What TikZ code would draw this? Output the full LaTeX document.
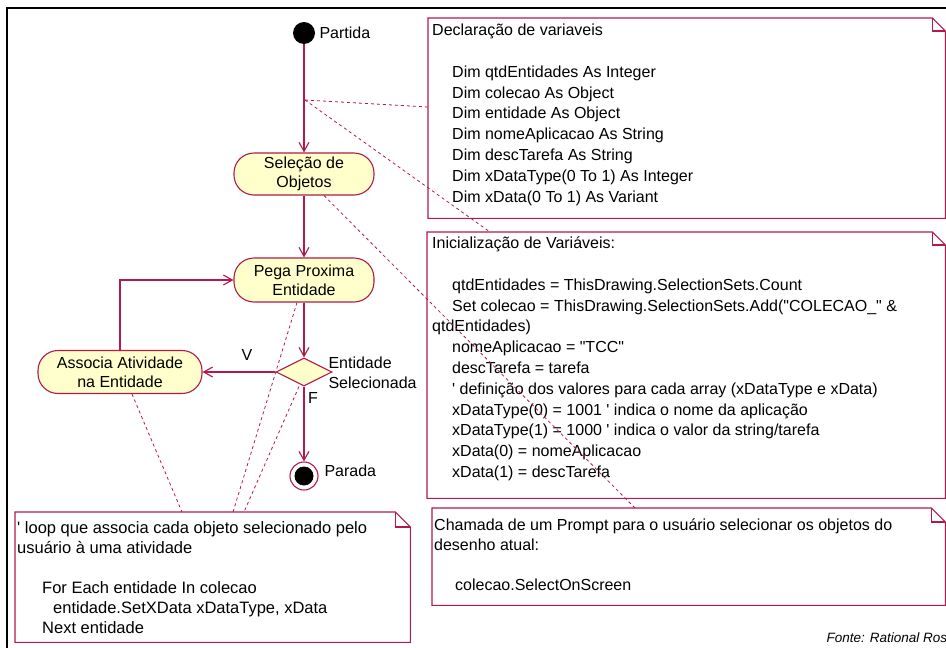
\documentclass[tikz,border=0pt]{standalone}
\usepackage{fontspec}
\setmainfont{Liberation Sans}[Ligatures=TeXOff]
\usetikzlibrary{arrows.meta,shapes.geometric}
\definecolor{umlred}{RGB}{180,25,75}
\definecolor{umlfill}{RGB}{255,255,204}
\tikzset{
  activity/.style={rectangle, rounded corners=20pt, draw=umlred, fill=umlfill,
    line width=1.1pt, align=center, inner sep=0pt, font=\fontsize{16}{19}\selectfont},
  flow/.style={draw=umlred, line width=1.1pt, -{Straight Barb[length=9pt,width=10pt]}},
  anchorline/.style={draw=umlred, line width=0.8pt, dash pattern=on 3pt off 3pt},
  notebox/.style={draw=umlred, line width=1.1pt},
  notearea/.style={rectangle, inner sep=0pt, anchor=north west},
  notetext/.style={anchor=north west, inner sep=0pt, align=left, font=\fontsize{16}{20.8}\selectfont},
}
% note outline with folded corner: node name, fold size
\newcommand{\dogear}[2]{%
  \draw[notebox] (#1.north west) -- ([xshift=-#2]#1.north east) -- ([yshift=-#2]#1.north east)
    -- (#1.south east) -- (#1.south west) -- cycle;
  \draw[notebox] ([xshift=-#2]#1.north east) |- ([yshift=-#2]#1.north east);
}
\newcommand{\ind}[1]{\hspace*{#1}}
\begin{document}
\begin{tikzpicture}[x=1pt, y=-1pt, font=\fontsize{16}{19}\selectfont]
  \useasboundingbox (0,0) rectangle (946,648);
  % frame
  \draw[line width=2pt] (7,648) -- (7,8) -- (946,8);

  % activity diagram
  \node[circle, fill=black, minimum size=22pt, inner sep=0pt] (start) at (304,33) {};
  \node[anchor=west] (startlbl) at (316,33) {Partida};
  \node[activity, minimum width=140pt, minimum height=42pt] (sel) at (304,174) {Seleção de\\Objetos};
  \node[activity, minimum width=140pt, minimum height=44pt] (pega) at (304,280) {Pega Proxima\\Entidade};
  \node[diamond, draw=umlred, fill=umlfill, line width=1.1pt, minimum width=56pt, minimum height=28pt,
    inner sep=0pt] (dec) at (304,372) {};
  \node[anchor=west, align=left, font=\fontsize{16}{20}\selectfont] (declbl) at (325,373) {Entidade\\Selecionada};
  \node[activity, minimum width=164pt, minimum height=43pt] (assoc) at (120,372) {Associa Atividade\\na Entidade};
  \node[circle, draw=umlred, line width=1.1pt, minimum size=28pt, inner sep=0pt,
    path picture={\fill[black] (path picture bounding box.center) circle (9.5pt);}] (stop) at (304,476) {};
  \node[anchor=west] (stoplbl) at (321,471) {Parada};
  \node (vlbl) at (247,355) {V};
  \node (flbl) at (313,398) {F};

  \draw[flow] (start) -- (sel);
  \draw[flow] (sel) -- (pega);
  \draw[flow] (pega) -- (dec);
  \draw[flow] (dec.west) -- (assoc.east);
  \draw[flow] (assoc.north) |- (pega.west);
  \draw[flow] (dec.south) -- (stop);

  % notes
  \node[notearea, minimum width=517pt, minimum height=200pt] (decl) at (428,18) {};
  \node[notearea, minimum width=518pt, minimum height=266pt] (init) at (427,232) {};
  \node[notearea, minimum width=513pt, minimum height=97pt] (cham) at (432,508) {};
  \node[notearea, minimum width=395pt, minimum height=130pt] (loop) at (15,512) {};
  \dogear{decl}{13pt}
  \dogear{init}{13pt}
  \dogear{cham}{14pt}
  \dogear{loop}{15pt}

  \node[notetext] (decltxt) at (432,21) {\strut Declaração de variaveis\\[20.8pt]
    \ind{20pt}Dim qtdEntidades As Integer\\
    \ind{20pt}Dim colecao As Object\\
    \ind{20pt}Dim entidade As Object\\
    \ind{20pt}Dim nomeAplicacao As String\\
    \ind{20pt}Dim descTarefa As String\\
    \ind{20pt}Dim xDataType(0 To 1) As Integer\\
    \ind{20pt}Dim xData(0 To 1) As Variant};
  \node[notetext] (inittxt) at (432,234) {\strut Inicialização de Variáveis:\\[20.8pt]
    \ind{20pt}qtdEntidades = ThisDrawing.SelectionSets.Count\\
    \ind{20pt}Set colecao = ThisDrawing.SelectionSets.Add("COLECAO\_" \&\\
    qtdEntidades)\\
    \ind{20pt}nomeAplicacao = "TCC"\\
    \ind{20pt}descTarefa = tarefa\\
    \ind{20pt}' definição dos valores para cada array (xDataType e xData)\\
    \ind{20pt}xDataType(0) = 1001 ' indica o nome da aplicação\\
    \ind{20pt}xDataType(1) = 1000 ' indica o valor da string/tarefa\\
    \ind{20pt}xData(0) = nomeAplicacao\\
    \ind{20pt}xData(1) = descTarefa};
  \node[notetext, font=\fontsize{16}{20}\selectfont] (chamtxt) at (434,516.5)
    {\strut Chamada de um Prompt para o usuário selecionar os objetos do\\
    desenho atual:\\[20pt]
    \ind{21pt}colecao.SelectOnScreen};
  \node[notetext, font=\fontsize{16.5}{20}\selectfont] (looptxt) at (17,519.5)
    {\strut' loop que associa cada objeto selecionado pelo\\
    usuário à uma atividade\\[20pt]
    \ind{25pt}For Each entidade In colecao\\
    \ind{36pt}entidade.SetXData xDataType, xData\\
    \ind{25pt}Next entidade};

  % note links
  \coordinate (tr) at (305,100);
  \draw[anchorline] (tr) -- ([yshift=-89pt]decl.north west);
  \draw[anchorline] (tr) -- ([xshift=63pt]init.north west);
  \draw[anchorline] ([xshift=20pt]sel.south) -- ([xshift=203pt]cham.north west);
  \draw[anchorline] ([xshift=-7pt]pega.south) -- ([xshift=218pt]loop.north west);
  \draw[anchorline] ([xshift=-5pt]dec.south) -- ([xshift=229pt]loop.north west);
  \draw[anchorline] ([xshift=12pt]assoc.south) -- ([xshift=167pt]loop.north west);

  \node[anchor=base west, font=\fontsize{13.5}{16}\selectfont\itshape] (fonte) at (823,642) {Fonte: Rational Ros};
\end{tikzpicture}
\end{document}
